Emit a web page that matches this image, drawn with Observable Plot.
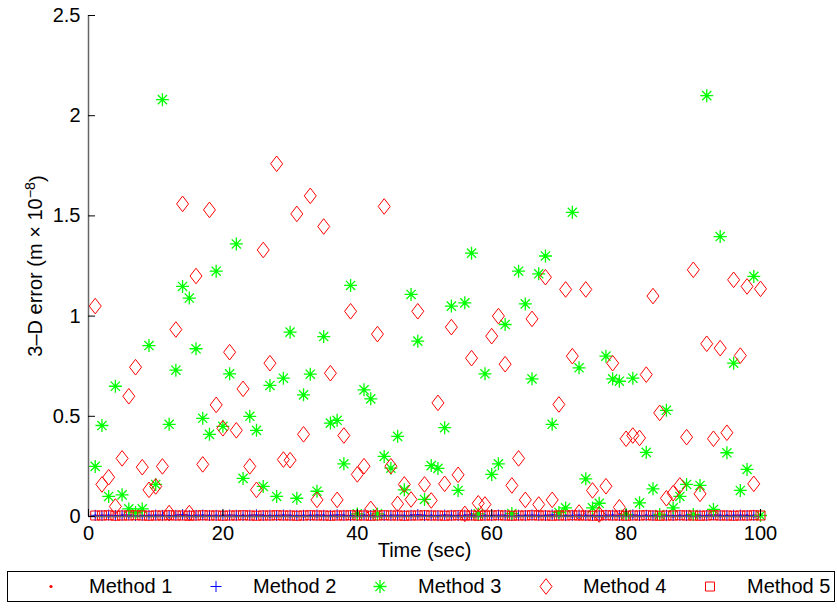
<!DOCTYPE html>
<html><head><meta charset="utf-8">
<script src="https://cdn.jsdelivr.net/npm/d3@7"></script>
<script src="https://cdn.jsdelivr.net/npm/@observablehq/plot@0.6"></script>
<style>
body{margin:0;background:#fff;font-family:"Liberation Sans",Arial,sans-serif;}
#chart{position:relative;width:837px;height:608px;}
#legend{position:absolute;left:7px;top:571px;width:828px;height:31px;border:1px solid #000;box-sizing:border-box;background:#fff;}
.lab{position:absolute;top:0;height:29px;line-height:29px;font-size:20px;color:#000;white-space:nowrap;}
.sym{position:absolute;top:0;}
</style></head><body><div id="chart"></div>
<script>
const time = [1,2,3,4,5,6,7,8,9,10,11,12,13,14,15,16,17,18,19,20,21,22,23,24,25,26,27,28,29,30,31,32,33,34,35,36,37,38,39,40,41,42,43,44,45,46,47,48,49,50,51,52,53,54,55,56,57,58,59,60,61,62,63,64,65,66,67,68,69,70,71,72,73,74,75,76,77,78,79,80,81,82,83,84,85,86,87,88,89,90,91,92,93,94,95,96,97,98,99,100];

const method1 = [0.003,0.004,0.002,0.003,0.005,0.003,0.002,0.004,0.003,0.003,
0.004,0.002,0.003,0.004,0.003,0.002,0.003,0.004,0.003,0.005,
0.003,0.002,0.004,0.003,0.003,0.004,0.002,0.003,0.004,0.003,
0.002,0.003,0.004,0.003,0.005,0.003,0.002,0.004,0.003,0.003,
0.004,0.002,0.003,0.004,0.003,0.002,0.003,0.004,0.003,0.005,
0.003,0.002,0.004,0.003,0.003,0.004,0.002,0.003,0.004,0.003,
0.002,0.003,0.004,0.003,0.005,0.003,0.002,0.004,0.003,0.003,
0.004,0.002,0.003,0.004,0.003,0.002,0.003,0.004,0.003,0.005,
0.003,0.002,0.004,0.003,0.003,0.004,0.002,0.003,0.004,0.003,
0.002,0.003,0.004,0.003,0.005,0.003,0.002,0.004,0.003,0.003];

const method2 = [0.006,0.005,0.007,0.005,0.006,0.008,0.005,0.006,0.005,0.007,
0.006,0.005,0.006,0.009,0.005,0.006,0.007,0.005,0.006,0.005,
0.007,0.006,0.005,0.006,0.008,0.005,0.006,0.005,0.007,0.006,
0.005,0.006,0.005,0.007,0.006,0.005,0.008,0.006,0.005,0.006,
0.007,0.005,0.006,0.005,0.006,0.007,0.005,0.006,0.009,0.005,
0.006,0.005,0.007,0.006,0.005,0.006,0.008,0.005,0.006,0.005,
0.007,0.006,0.005,0.006,0.005,0.007,0.006,0.005,0.008,0.006,
0.005,0.006,0.007,0.005,0.006,0.005,0.006,0.007,0.005,0.006,
0.008,0.005,0.006,0.005,0.007,0.006,0.005,0.006,0.005,0.007,
0.006,0.005,0.008,0.006,0.005,0.006,0.007,0.005,0.006,0.005];

const method3 = [0.25,0.454,0.10,0.65,0.108,0.038,0.02,0.038,0.853,0.16,
2.08,0.46,0.73,1.148,1.09,0.837,0.49,0.41,1.224,0.45,
0.712,1.36,0.19,0.50,0.43,0.15,0.654,0.10,0.69,0.92,
0.091,0.607,0.71,0.126,0.898,0.466,0.48,0.263,1.153,0.013,
0.632,0.587,0.013,0.30,0.241,0.40,0.133,1.108,0.875,0.085,
0.254,0.24,0.443,1.05,0.13,1.066,1.314,0.013,0.712,0.21,
0.263,0.958,0.015,1.224,1.061,0.687,1.211,1.30,0.46,0.02,
0.043,1.518,0.742,0.188,0.043,0.066,0.80,0.687,0.675,0.01,
0.69,0.068,0.32,0.138,0.01,0.53,0.043,0.10,0.16,0.01,
0.155,2.10,0.035,1.397,0.318,0.765,0.13,0.235,1.198,0.005];

const method4 = [1.05,0.16,0.196,0.05,0.29,0.60,0.745,0.246,0.133,0.15,
0.25,0.017,0.933,1.56,0.017,1.20,0.26,1.53,0.557,0.44,
0.82,0.43,0.637,0.25,0.133,1.33,0.765,1.76,0.284,0.281,
1.51,0.41,1.60,0.083,1.447,0.715,0.083,0.404,1.024,0.21,
0.251,0.038,0.91,1.547,0.251,0.063,0.16,0.085,1.024,0.16,
0.08,0.567,0.163,0.945,0.208,0.013,0.79,0.066,0.06,0.90,
1.0,0.76,0.155,0.29,0.083,0.986,0.06,1.194,0.083,0.559,
1.133,0.80,0.02,1.133,0.13,0.01,0.151,0.765,0.046,0.388,
0.404,0.392,0.708,1.10,0.517,0.091,0.116,0.155,0.396,1.231,
0.113,0.862,0.388,0.84,0.418,1.181,0.803,1.148,0.163,1.136];

const method5 = [0.005,0.005,0.006,0.004,0.005,0.005,0.006,0.005,0.004,0.005,
0.005,0.006,0.005,0.005,0.004,0.005,0.006,0.005,0.005,0.004,
0.005,0.005,0.006,0.005,0.004,0.005,0.005,0.006,0.005,0.005,
0.004,0.005,0.006,0.005,0.005,0.004,0.005,0.005,0.006,0.005,
0.005,0.004,0.005,0.006,0.005,0.005,0.004,0.005,0.005,0.006,
0.005,0.005,0.004,0.005,0.006,0.005,0.005,0.004,0.005,0.005,
0.006,0.005,0.004,0.005,0.005,0.006,0.005,0.005,0.004,0.005,
0.005,0.006,0.005,0.005,0.004,0.005,0.006,0.005,0.005,0.004,
0.005,0.005,0.006,0.005,0.004,0.005,0.005,0.006,0.005,0.005,
0.004,0.005,0.006,0.005,0.005,0.004,0.005,0.005,0.006,0.005];

const methodNames = ["Method 1","Method 2","Method 3","Method 4","Method 5"];
const xTicks = [0,20,40,60,80,100];
const yTicks = [0,0.5,1,1.5,2,2.5];
const xLabel = "Time (sec)";
const yLabel = "3\u2013D error (m \u00d7 10\u22128)";

// custom marker shapes (MATLAB-like)
const rOf = s => Math.sqrt(s / Math.PI);
const sym = {
  dot: {draw(c, s){ const r = rOf(s); c.moveTo(r,0); c.arc(0,0,r,0,2*Math.PI); }},
  plus: {draw(c, s){ const r = rOf(s); c.moveTo(-r,0); c.lineTo(r,0); c.moveTo(0,-r); c.lineTo(0,r); }},
  asterisk: {draw(c, s){ const r = rOf(s), d = r*Math.SQRT1_2;
    c.moveTo(-r,0); c.lineTo(r,0); c.moveTo(0,-r); c.lineTo(0,r);
    c.moveTo(-d,-d); c.lineTo(d,d); c.moveTo(-d,d); c.lineTo(d,-d); }},
  diamond: {draw(c, s){ const r = rOf(s); c.moveTo(0,-r*1.3); c.lineTo(r,0); c.lineTo(0,r*1.3); c.lineTo(-r,0); c.closePath(); }},
  square: {draw(c, s){ const r = rOf(s); c.rect(-r,-r,2*r,2*r); }}
};

const series = [
  {name: methodNames[0], values: method1, symbol: sym.dot, r: 1.6, stroke: "none", fill: "#ff0000", sw: 0},
  {name: methodNames[1], values: method2, symbol: sym.plus, r: 5.5, stroke: "#0000ff", fill: "none", sw: 1},
  {name: methodNames[2], values: method3, symbol: sym.asterisk, r: 6.5, stroke: "#00ff00", fill: "none", sw: 1.3},
  {name: methodNames[3], values: method4, symbol: sym.diamond, r: 6, stroke: "#ff0000", fill: "none", sw: 1},
  {name: methodNames[4], values: method5, symbol: sym.square, r: 4.5, stroke: "#ff0000", fill: "none", sw: 1}
];

const rows = vals => time.map((t, i) => ({t, v: vals[i]}));

const FS = 20;
const plot = Plot.plot({
  width: 837,
  height: 568,
  marginLeft: 88,
  marginRight: 77,
  marginTop: 15,
  marginBottom: 52,
  style: {fontFamily: "'Liberation Sans', Arial, sans-serif", fontSize: FS + "px", background: "#fff", color: "#000"},
  x: {domain: [0, 100], ticks: xTicks},
  y: {domain: [0, 2.5], ticks: yTicks},
  marks: [
    ...series.map(s => Plot.dot(rows(s.values), {
      x: "t", y: "v", symbol: s.symbol, r: s.r,
      stroke: s.stroke, fill: s.fill, strokeWidth: s.sw
    })),
    Plot.ruleX([0], {stroke: "#666", strokeWidth: 1.5}),
    Plot.ruleY([0], {stroke: "#666", strokeWidth: 1.5}),
    Plot.axisY({ticks: yTicks, tickSize: -7, tickFormat: () => "", label: null}),
    Plot.axisX({ticks: xTicks, tickSize: -7, tickFormat: () => "", label: null}),
    Plot.axisY({ticks: yTicks, tickSize: 0, tickPadding: 8, fontSize: FS, tickFormat: d => String(d), label: null}),
    Plot.axisX({ticks: xTicks, tickSize: 0, tickPadding: 9, fontSize: FS, tickFormat: d => String(d), label: null}),
    Plot.text([xLabel], {frameAnchor: "bottom", dy: 40, fontSize: FS, textAnchor: "middle", text: d => d}),
    Plot.text([yLabel], {frameAnchor: "left", dx: -53, rotate: -90, fontSize: FS, textAnchor: "middle", text: d => d})
  ]
});

// superscript for the exponent in the y label
d3.select(plot).selectAll("text").each(function(){
  const t = this.textContent;
  if (t === yLabel) {
    const el = d3.select(this);
    el.text(null);
    el.append("tspan").text("3\u2013D error (m \u00d7 10");
    el.append("tspan").attr("dy", "-0.45em").attr("font-size", "0.72em").text("\u22128");
    el.append("tspan").attr("dy", "0.45em").text(")");
  }
});

const chart = document.getElementById("chart");
chart.appendChild(plot);

// legend
const legend = document.createElement("div");
legend.id = "legend";
const symX = [43, 208, 372, 538, 702];
const labX = [81, 245, 410, 575, 739];
series.forEach((s, i) => {
  const svg = d3.create("svg").attr("class", "sym").attr("width", 20).attr("height", 29)
    .style("left", (symX[i] - 10) + "px");
  svg.append("path")
    .attr("transform", "translate(10,14.5)")
    .attr("d", d3.symbol().type(s.symbol).size(Math.PI * s.r * s.r)())
    .attr("fill", s.fill).attr("stroke", s.stroke).attr("stroke-width", s.sw);
  legend.appendChild(svg.node());
  const lab = document.createElement("div");
  lab.className = "lab";
  lab.style.left = labX[i] + "px";
  lab.textContent = s.name;
  legend.appendChild(lab);
});
chart.appendChild(legend);
</script>
</body></html>
